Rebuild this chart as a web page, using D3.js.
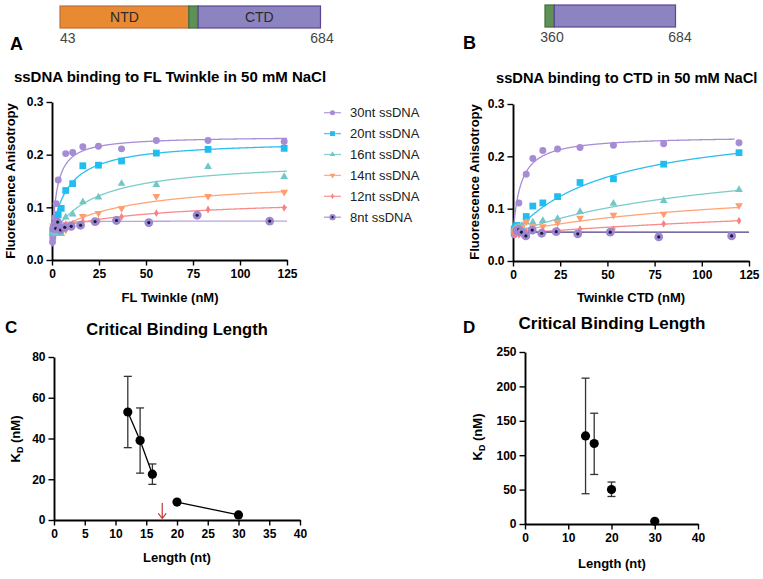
<!DOCTYPE html>
<html>
<head>
<meta charset="utf-8">
<script src="https://cdn.jsdelivr.net/npm/d3@7"></script>
<style>
  body { margin: 0; background: #fff; }
  text { font-family: "Liberation Sans", Arial, sans-serif; }
</style>
</head>
<body>
<svg id="fig" width="763" height="579"></svg>
<script>
// ---- data ----
const seriesNames = ['30nt ssDNA', '20nt ssDNA', '16nt ssDNA', '14nt ssDNA', '12nt ssDNA', '8nt ssDNA'];

// FL Twinkle titration (nM) and anisotropy values
const flConc  = [0.28, 0.42, 0.63, 0.95, 1.4, 2.2, 3.3, 4.9, 7.3, 11, 16.4, 24.7, 37, 55.5, 83, 123.5];
const flConc8 = [0.9, 1.35, 2.0, 3.0, 4.5, 6.8, 10.2, 15.2, 22.9, 34.3, 51.5, 77.2, 115.8];
const fl30 = [0.034, 0.042, 0.048, 0.062, 0.080, 0.107, 0.152, null, 0.202, 0.204, 0.215, 0.216, 0.211, 0.227, 0.227, 0.225];
const fl20 = [null, 0.052, 0.055, 0.058, 0.062, 0.068, 0.086, 0.098, 0.132, 0.145, 0.179, 0.180, 0.188, 0.203, 0.210, 0.212];
const fl16 = [null, null, 0.052, 0.055, 0.050, 0.055, 0.050, 0.050, 0.081, 0.087, 0.110, 0.119, 0.145, 0.143, 0.177, 0.158];
const fl14 = [null, null, 0.065, 0.062, 0.060, 0.062, 0.058, 0.055, 0.057, 0.069, 0.083, 0.089, 0.098, 0.121, 0.121, 0.129];
const fl12 = [null, null, 0.068, 0.070, 0.067, 0.065, 0.062, 0.063, 0.068, 0.069, 0.073, 0.074, 0.082, 0.089, 0.096, 0.099];
const fl8  = [0.060, 0.065, 0.060, 0.072, 0.057, 0.062, 0.064, 0.066, 0.073, 0.075, 0.071, 0.085, 0.074];

// fitted one-site binding curves (baseline, amplitude, Kd in nM)
const flBase = [0.025, 0.050, 0.045, 0.050, 0.058, 0.050];
const flBmax = [0.210, 0.177, 0.146, 0.105, 0.060, 0.024];
const flKd   = [2.5, 8.8, 22.5, 39, 53, 1];

// Twinkle CTD titration
const ctdConc  = [0.62, 0.93, 1.4, 2.1, 3.1, 4.7, 7.0, 10.5, 15.8, 23.6, 35.5, 53.2, 79.8, 119.7];
const ctdConc8 = [2.0, 3.0, 4.5, 6.8, 10.2, 15.2, 22.9, 34.3, 51.5, 77.2, 115.8];
const ctd30 = [0.050, 0.055, 0.060, 0.065, 0.111, null, 0.166, 0.196, 0.211, 0.214, 0.217, 0.221, 0.224, 0.226];
const ctd20 = [0.060, 0.062, 0.065, 0.068, 0.065, 0.056, 0.085, 0.105, 0.111, 0.123, 0.150, 0.157, 0.185, 0.207];
const ctd16 = [0.058, 0.060, 0.063, 0.065, 0.066, 0.068, 0.074, 0.074, 0.077, 0.081, 0.094, 0.110, 0.115, 0.136];
const ctd14 = [0.055, 0.058, 0.060, 0.062, 0.063, 0.065, 0.075, 0.066, 0.066, 0.073, 0.082, 0.088, 0.090, 0.106];
const ctd12 = [0.050, 0.052, 0.053, 0.054, 0.050, 0.052, 0.056, 0.058, 0.058, 0.059, 0.061, 0.061, 0.071, 0.077];
const ctd8  = [0.058, 0.060, 0.055, 0.048, 0.059, 0.053, 0.056, 0.052, 0.055, 0.046, 0.048];

const ctdBase = [0.050, 0.050, 0.053, 0.055, 0.052, 0.055];
const ctdBmax = [0.189, 0.221, 0.162, 0.098, 0.0875, 0];
const ctdKd   = [4, 50, 117, 128, 300, 1];

// critical binding length, FL Twinkle (C)
const cLength = [12, 14, 16, 20, 30];
const cKd     = [53, 39, 22.5, 8.8, 2.5];
const cErrLo  = [35.5, 23, 17.5, null, null];
const cErrHi  = [70.5, 55, 27.5, null, null];
const cGroups = [[12, 14, 16], [20, 30]];
const cCritical = 17.6;

// critical binding length, CTD (D)
const dLength = [14, 16, 20, 30];
const dKd     = [128, 117, 50, 4];
const dErrLo  = [44, 72, 40, null];
const dErrHi  = [212, 161, 61, null];

// domain maps
const flDomains  = [{ name: 'NTD', start: 43, end: 360 }, { name: '', start: 360, end: 383 }, { name: 'CTD', start: 383, end: 684 }];
const ctdDomains = [{ name: '', start: 360, end: 383 }, { name: '', start: 383, end: 684 }];

// ---- styles ----
const colors = ['#a68bd5', '#22bdf0', '#6fc8c5', '#ff9d6c', '#f78283', '#9d87d0'];
const shapes = ['circle', 'square', 'triangle', 'triangleDown', 'diamond', 'ring'];
const domainFill = ['#e98a32', '#5f9157', '#8b84c0'];
const domainStroke = ['#b96f3c', '#3e6d3c', '#5d4591'];

const svg = d3.select('#fig');

function drawMarker(g, shape, color, k) {
    k = k || 1;
    if (shape === 'ring') {
        g.append('circle').attr('r', 4.4 * k).attr('fill', color);
        g.append('circle').attr('r', 1.6 * k).attr('fill', '#1c1a40');
        return;
    }
    let type = d3.symbolCircle, size = 38;
    if (shape === 'square') { type = d3.symbolSquare; size = 46; }
    if (shape === 'triangle' || shape === 'triangleDown') { type = d3.symbolTriangle; size = 26; }
    if (shape === 'diamond') { type = d3.symbolDiamond; size = 18; }
    g.append('path')
        .attr('d', d3.symbol(type, size * k * k)())
        .attr('fill', color)
        .attr('transform', shape === 'triangleDown' ? 'rotate(180)' : null);
}

// axis with major labelled ticks and minor unlabelled ticks
function drawAxes(x, y, xMajor, xMinor, yMajor, yMinor, yFmt) {
    const g = svg.append('g');
    const x0 = y.range()[0];
    const y0 = x.range()[0];
    const xa = g.append('g').attr('transform', `translate(0,${x0})`);
    xa.call(d3.axisBottom(x).tickValues(xMinor).tickSize(3).tickSizeOuter(0).tickFormat(''));
    xa.call(d3.axisBottom(x).tickValues(xMajor).tickSize(5.5).tickSizeOuter(0).tickPadding(4));
    const ya = g.append('g').attr('transform', `translate(${y0},0)`);
    ya.call(d3.axisLeft(y).tickValues(yMinor).tickSize(3).tickSizeOuter(0).tickFormat(''));
    ya.call(d3.axisLeft(y).tickValues(yMajor).tickSize(5.5).tickSizeOuter(0).tickPadding(3).tickFormat(yFmt));
    g.selectAll('.domain').attr('stroke', '#000').attr('stroke-width', 1.9);
    g.selectAll('.tick line').attr('stroke', '#000').attr('stroke-width', 1.4);
    g.selectAll('.tick text').attr('fill', '#000').attr('font-size', 12).attr('font-weight', 'bold')
        .style('font-family', '"Liberation Sans", Arial, sans-serif');
}

function text(x, y, s, opts) {
    opts = opts || {};
    return svg.append('text').attr('x', x).attr('y', y).text(s)
        .attr('font-size', opts.size || 13)
        .attr('font-weight', opts.weight || 'bold')
        .attr('text-anchor', opts.anchor || 'start')
        .attr('fill', opts.fill || '#000');
}

// ---- domain bars ----
function domainBar(domains, residue, y, h) {
    domains.forEach((d, i) => {
        const ci = d.start === 43 ? 0 : (d.end === 383 ? 1 : 2);
        svg.append('rect')
            .attr('x', residue(d.start)).attr('y', y)
            .attr('width', residue(d.end) - residue(d.start)).attr('height', h)
            .attr('fill', domainFill[ci]).attr('stroke', domainStroke[ci]).attr('stroke-width', 1.2);
        if (d.name) {
            text((residue(d.start) + residue(d.end)) / 2, y + h / 2 + 5, d.name,
                { size: 14, weight: 'normal', anchor: 'middle', fill: '#2a2a2a' });
        }
    });
}
const flResidue = d3.scaleLinear().domain([43, 684]).range([60, 320.5]);
const ctdResidue = d3.scaleLinear().domain([360, 684]).range([545, 675.5]);
domainBar(flDomains, flResidue, 6, 22);
domainBar(ctdDomains, ctdResidue, 5, 22);
text(60, 42.5, '43', { size: 14, weight: 'normal', fill: '#444' });
text(322, 42.5, '684', { size: 14, weight: 'normal', anchor: 'middle', fill: '#444' });
text(552, 41.5, '360', { size: 14, weight: 'normal', anchor: 'middle', fill: '#444' });
text(680, 41.5, '684', { size: 14, weight: 'normal', anchor: 'middle', fill: '#444' });

// ---- binding panels ----
function bindingPanel(p) {
    const x = d3.scaleLinear().domain([0, 125]).range(p.xr);
    const y = d3.scaleLinear().domain([0, 0.3]).range(p.yr);
    drawAxes(x, y, d3.range(0, 126, 25), d3.range(0, 126, 5),
        [0, 0.1, 0.2, 0.3], d3.range(0, 0.301, 0.02), d3.format('.1f'));

    const line = d3.line().x(d => x(d[0])).y(d => y(d[1]));
    p.values.forEach((vals, i) => {
        const end = p.curveEnd[i];
        const pts = d3.range(0, end + 0.001, 0.2)
            .map(c => [c, p.base[i] + p.bmax[i] * c / (p.kd[i] + c)]);
        svg.append('path').attr('d', line(pts)).attr('fill', 'none')
            .attr('stroke', p.curveColors[i]).attr('stroke-width', 1.3);
    });
    p.values.forEach((vals, i) => {
        const conc = p.conc[i];
        vals.forEach((v, j) => {
            if (v == null) return;
            const g = svg.append('g').attr('transform', `translate(${x(conc[j])},${y(v)})`);
            drawMarker(g, shapes[i], colors[i]);
        });
    });
}

bindingPanel({
    xr: [52, 287], yr: [260, 102],
    values: [fl30, fl20, fl16, fl14, fl12, fl8],
    conc: [flConc, flConc, flConc, flConc, flConc, flConc8],
    base: flBase, bmax: flBmax, kd: flKd,
    curveEnd: [125, 125, 125, 125, 125, 125],
    curveColors: ['#a88dd8', '#2bbff0', '#7ccdca', '#ffa57a', '#f88c8c', '#b7a4e0']
});
bindingPanel({
    xr: [513, 749], yr: [261, 104],
    values: [ctd30, ctd20, ctd16, ctd14, ctd12, ctd8],
    conc: [ctdConc, ctdConc, ctdConc, ctdConc, ctdConc, ctdConc8],
    base: ctdBase, bmax: ctdBmax, kd: ctdKd,
    curveEnd: [117.5, 119.7, 119.7, 119.7, 119.7, 125],
    curveColors: ['#a88dd8', '#2bbff0', '#7ccdca', '#ffa57a', '#f88c8c', '#4b3c8c']
});

// legend
seriesNames.forEach((name, i) => {
    const ly = 112.7 + i * 20.9;
    svg.append('line').attr('x1', 324).attr('x2', 341).attr('y1', ly).attr('y2', ly)
        .attr('stroke', colors[i]).attr('stroke-width', 1.3).attr('opacity', 0.8);
    const g = svg.append('g').attr('transform', `translate(332.5,${ly})`);
    drawMarker(g, shapes[i], colors[i], 0.72);
    text(350, ly + 4.6, name, { size: 13, weight: 'normal', fill: '#222' });
});

// titles and labels
text(10, 50, 'A', { size: 18 });
text(463, 48.5, 'B', { size: 18 });
text(170, 82, 'ssDNA binding to FL Twinkle in 50 mM NaCl', { size: 15, anchor: 'middle' });
text(496, 83, 'ssDNA binding to CTD in 50 mM NaCl', { size: 14.7 });
text(170, 302, 'FL Twinkle (nM)', { size: 13, anchor: 'middle' });
text(631, 302, 'Twinkle CTD (nM)', { size: 13, anchor: 'middle' });
text(0, 0, 'Fluorescence Anisotropy', { size: 13, anchor: 'middle' })
    .attr('transform', 'translate(15,181) rotate(-90)');
text(0, 0, 'Fluorescence Anisotropy', { size: 13, anchor: 'middle' })
    .attr('transform', 'translate(479,182) rotate(-90)');

// ---- critical binding length panels ----
function kdLabel(tx, ty) {
    const t = svg.append('text').attr('transform', `translate(${tx},${ty}) rotate(-90)`)
        .attr('text-anchor', 'middle').attr('font-size', 13).attr('font-weight', 'bold');
    t.append('tspan').text('K');
    t.append('tspan').text('D').attr('font-size', 9).attr('dy', 3);
    t.append('tspan').text(' (nM)').attr('dy', -3);
}

function errorBars(x, y, len, kd, lo, hi) {
    len.forEach((l, i) => {
        if (lo[i] == null) return;
        svg.append('line').attr('x1', x(l)).attr('x2', x(l)).attr('y1', y(lo[i])).attr('y2', y(hi[i]))
            .attr('stroke', '#333').attr('stroke-width', 1.3);
        [lo[i], hi[i]].forEach(v => {
            svg.append('line').attr('x1', x(l) - 4).attr('x2', x(l) + 4).attr('y1', y(v)).attr('y2', y(v))
                .attr('stroke', '#333').attr('stroke-width', 1.3);
        });
    });
}

// C
const xC = d3.scaleLinear().domain([0, 40]).range([54, 300]);
const yC = d3.scaleLinear().domain([0, 80]).range([520, 357]);
drawAxes(xC, yC, d3.range(0, 41, 5), d3.range(0, 41, 1), d3.range(0, 81, 20), d3.range(0, 81, 4), d3.format('d'));
errorBars(xC, yC, cLength, cKd, cErrLo, cErrHi);
const cLine = d3.line().x(d => xC(d)).y(d => yC(cKd[cLength.indexOf(d)]));
cGroups.forEach(grp => {
    svg.append('path').attr('d', cLine(grp)).attr('fill', 'none').attr('stroke', '#000').attr('stroke-width', 1.3);
});
cLength.forEach((l, i) => {
    svg.append('circle').attr('cx', xC(l)).attr('cy', yC(cKd[i])).attr('r', 4.6).attr('fill', '#000');
});
// red arrow marking the critical length
svg.append('line').attr('x1', xC(cCritical)).attr('x2', xC(cCritical))
    .attr('y1', yC(8.4)).attr('y2', yC(0.8)).attr('stroke', '#c0392f').attr('stroke-width', 1.2);
svg.append('path')
    .attr('d', `M${xC(cCritical) - 4},${yC(0.8) - 5} L${xC(cCritical)},${yC(0.8)} L${xC(cCritical) + 4},${yC(0.8) - 5}`)
    .attr('fill', 'none').attr('stroke', '#c0392f').attr('stroke-width', 1.2);

text(5, 333, 'C', { size: 17 });
text(177, 335, 'Critical Binding Length', { size: 16.5, anchor: 'middle' });
text(177, 562, 'Length (nt)', { size: 13, anchor: 'middle' });
kdLabel(20, 439);

// D
const xD = d3.scaleLinear().domain([0, 40]).range([525, 698]);
const yD = d3.scaleLinear().domain([0, 250]).range([524, 352]);
drawAxes(xD, yD, d3.range(0, 41, 10), d3.range(0, 41, 2), d3.range(0, 251, 50), d3.range(0, 251, 10), d3.format('d'));
errorBars(xD, yD, dLength, dKd, dErrLo, dErrHi);
dLength.forEach((l, i) => {
    svg.append('circle').attr('cx', xD(l)).attr('cy', yD(dKd[i])).attr('r', 4.6).attr('fill', '#000');
});
text(463, 333, 'D', { size: 17 });
text(612, 329, 'Critical Binding Length', { size: 17, anchor: 'middle' });
text(612, 568, 'Length (nt)', { size: 13, anchor: 'middle' });
kdLabel(482, 437);
</script>
</body>
</html>
